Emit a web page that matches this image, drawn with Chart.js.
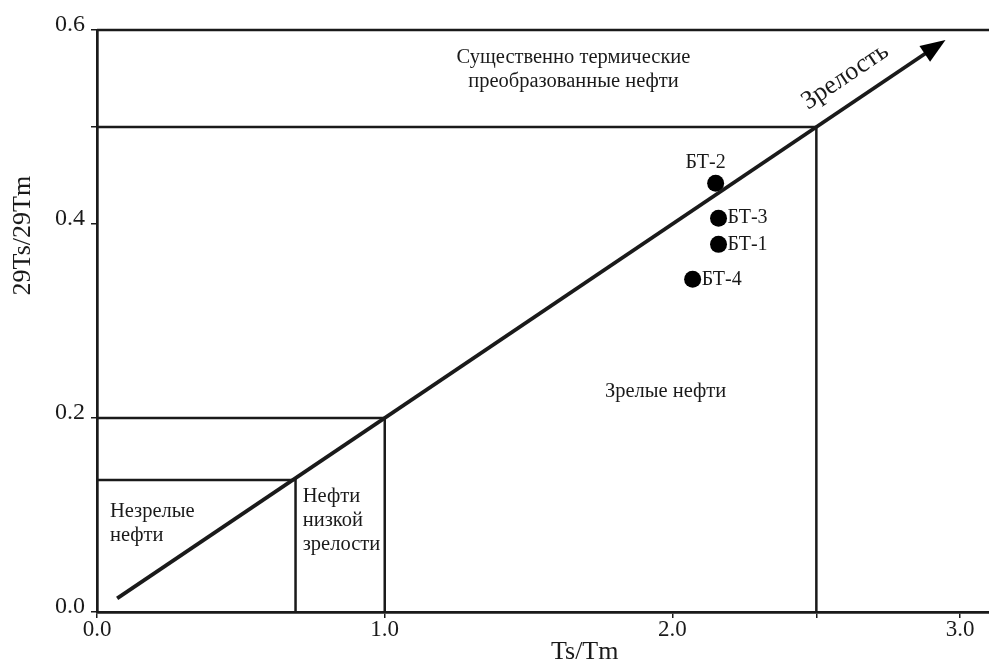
<!DOCTYPE html>
<html><head><meta charset="utf-8">
<script src="https://cdn.jsdelivr.net/npm/chart.js@4"></script>
<style>html,body{margin:0;padding:0;background:#fff}#wrap{width:989px;height:661px}</style>
</head><body><div id="wrap"><canvas id="c" width="989" height="661"></canvas></div>
<script>
// ---- data ----
const sampleNames = ['БТ-2', 'БТ-3', 'БТ-1', 'БТ-4'];
const sampleTsTm = [2.15, 2.16, 2.16, 2.07];
const sample29TsTm = [0.442, 0.406, 0.379, 0.343];

const xTickValues = [0, 1, 2, 2.5, 3];
const xTickLabels = ['0.0', '1.0', '2.0', '', '3.0'];
const yTickValues = [0, 0.2, 0.4, 0.5, 0.6];
const yTickLabels = ['0.0', '0.2', '0.4', '', '0.6'];

// zone boundaries: [Ts/Tm, 29Ts/29Tm]
const immatureBound = [0.69, 0.136];
const lowMatureBound = [1.0, 0.2];
const matureBound = [2.5, 0.5];
const yTop = 0.6;
const xMax = 3.1;
const trendStart = [0.07, 0.014];
const trendEnd = [2.92, 0.584];

const xTitle = 'Ts/Tm';
const yTitle = '29Ts/29Tm';
const maturityLabel = 'Зрелость';
const zoneTexts = [
  { lines: ['Существенно термические', 'преобразованные нефти'], at: [1.656, 0.572], align: 'center' },
  { lines: ['Зрелые нефти'], at: [1.976, 0.227], align: 'center' },
  { lines: ['Незрелые', 'нефти'], at: [0.045, 0.103], align: 'left' },
  { lines: ['Нефти', 'низкой', 'зрелости'], at: [0.715, 0.119], align: 'left' }
];
const labelPlacement = ['above', 'right', 'right', 'right'];

// ---- build ----
const INK = '#1a1a1a';
const SERIF = '"Liberation Serif", "Times New Roman", serif';
function boxPts(b) { return [{ x: 0, y: b[1] }, { x: b[0], y: b[1] }, { x: b[0], y: 0 }]; }
function lineDs(pts, w) {
  return { data: pts, showLine: true, borderColor: INK, borderWidth: w, pointRadius: 0, fill: false, clip: false, tension: 0 };
}
const datasets = [
  lineDs(boxPts(immatureBound), 2.5),
  lineDs(boxPts(lowMatureBound), 2.5),
  lineDs(boxPts(matureBound), 2.5),
  lineDs([{ x: 0, y: yTop }, { x: xMax, y: yTop }], 2.7),
  lineDs([{ x: trendStart[0], y: trendStart[1] }, { x: trendEnd[0], y: trendEnd[1] }], 3.8),
  {
    data: sampleTsTm.map((v, i) => ({ x: v, y: sample29TsTm[i] })),
    showLine: false, pointRadius: 8.5, pointBackgroundColor: '#000', pointBorderColor: '#000', pointBorderWidth: 0, clip: false
  }
];

const annot = {
  id: 'annot',
  afterDatasetsDraw(chart) {
    const ctx = chart.ctx, xs = chart.scales.x, ys = chart.scales.y;
    const px = v => xs.getPixelForValue(v), py = v => ys.getPixelForValue(v);
    ctx.save();
    // arrow head
    const x0 = px(trendStart[0]), y0 = py(trendStart[1]), x1 = px(trendEnd[0]), y1 = py(trendEnd[1]);
    const ang = Math.atan2(y1 - y0, x1 - x0);
    const tipX = x1 + 10 * Math.cos(ang), tipY = y1 + 10 * Math.sin(ang);
    const L = 25, H = 9.5;
    ctx.fillStyle = '#000';
    ctx.beginPath();
    ctx.moveTo(tipX, tipY);
    ctx.lineTo(tipX - L * Math.cos(ang) + H * Math.sin(ang), tipY - L * Math.sin(ang) - H * Math.cos(ang));
    ctx.lineTo(tipX - L * Math.cos(ang) - H * Math.sin(ang), tipY - L * Math.sin(ang) + H * Math.cos(ang));
    ctx.closePath();
    ctx.fill();
    // maturity label
    ctx.fillStyle = INK;
    ctx.save();
    ctx.translate(px(2.6), py(0.552));
    ctx.rotate(ang);
    ctx.font = '26px ' + SERIF;
    ctx.textAlign = 'center'; ctx.textBaseline = 'middle';
    ctx.fillText(maturityLabel, 0, 0);
    ctx.restore();
    // zone texts
    ctx.font = '20.5px ' + SERIF;
    ctx.textBaseline = 'middle';
    zoneTexts.forEach(z => {
      ctx.textAlign = z.align;
      z.lines.forEach((ln, k) => ctx.fillText(ln, px(z.at[0]), py(z.at[1]) + k * 24));
    });
    // sample labels
    ctx.font = '20px ' + SERIF;
    sampleNames.forEach((n, i) => {
      const x = px(sampleTsTm[i]), y = py(sample29TsTm[i]);
      if (labelPlacement[i] === 'above') {
        ctx.textAlign = 'center'; ctx.fillText(n, x - 10, y - 21);
      } else {
        ctx.textAlign = 'left'; ctx.fillText(n, x + 9, y);
      }
    });
    // axis titles
    ctx.font = '26px ' + SERIF;
    ctx.textAlign = 'center';
    ctx.textBaseline = 'alphabetic';
    ctx.fillText(xTitle, px(1.695), 659);
    ctx.save();
    ctx.translate(30, py(0.388));
    ctx.rotate(-Math.PI / 2);
    ctx.fillText(yTitle, 0, 0);
    ctx.restore();
    ctx.restore();
  }
};

new Chart(document.getElementById('c'), {
  type: 'scatter',
  data: { datasets },
  options: {
    responsive: false, animation: false, devicePixelRatio: 1,
    layout: { autoPadding: false, padding: { top: 30, right: 0, left: 0, bottom: 0 } },
    plugins: { legend: { display: false }, tooltip: { enabled: false } },
    scales: {
      x: {
        type: 'linear', min: 0, max: xMax,
        afterBuildTicks: s => { s.ticks = xTickValues.map(v => ({ value: v })); },
        afterFit: s => { s.height = 49; s.paddingLeft = 0; s.paddingRight = 0; },
        ticks: {
          autoSkip: false, maxRotation: 0, padding: -2, color: INK,
          font: { family: SERIF, size: 23 },
          callback: (v) => { const i = xTickValues.indexOf(v); return i >= 0 ? xTickLabels[i] : ''; }
        },
        grid: { drawOnChartArea: false, drawTicks: true, tickLength: 6, color: INK, lineWidth: 1.5 },
        border: { display: true, color: INK, width: 2.7 }
      },
      y: {
        type: 'linear', min: 0, max: yTop,
        afterBuildTicks: s => { s.ticks = yTickValues.map(v => ({ value: v })); },
        afterFit: s => { s.width = 97; s.paddingTop = 0; s.paddingBottom = 0; },
        ticks: {
          autoSkip: false, padding: 6, color: INK, labelOffset: -5,
          font: { family: SERIF, size: 24 },
          callback: (v) => { const i = yTickValues.indexOf(v); return i >= 0 ? yTickLabels[i] : ''; }
        },
        grid: { drawOnChartArea: false, drawTicks: true, tickLength: 6, color: INK, lineWidth: 1.5 },
        border: { display: true, color: INK, width: 2.7 }
      }
    }
  },
  plugins: [annot]
});
</script></body></html>
